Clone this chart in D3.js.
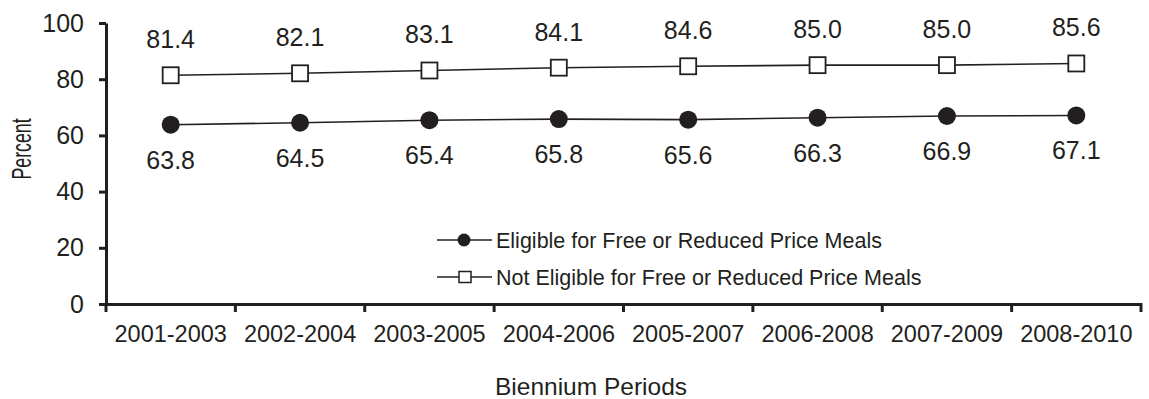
<!DOCTYPE html>
<html>
<head>
<meta charset="utf-8">
<script src="https://cdn.jsdelivr.net/npm/d3@7"></script>
<style>
  html, body { margin: 0; padding: 0; background: #fff; }
  svg { display: block; font-family: "Liberation Sans", Arial, sans-serif; }
</style>
</head>
<body>
<svg id="chart" width="1149" height="399"></svg>
<script>
const categories = ["2001-2003", "2002-2004", "2003-2005", "2004-2006", "2005-2007", "2006-2008", "2007-2009", "2008-2010"];
const eligible = [63.8, 64.5, 65.4, 65.8, 65.6, 66.3, 66.9, 67.1];
const notEligible = [81.4, 82.1, 83.1, 84.1, 84.6, 85.0, 85.0, 85.6];
const yTicks = [0, 20, 40, 60, 80, 100];
const seriesNames = ["Eligible for Free or Reduced Price Meals", "Not Eligible for Free or Reduced Price Meals"];
const xTitle = "Biennium Periods";
const yTitle = "Percent";

const ink = "#231f20";
const svg = d3.select("#chart");

const x = d3.scaleBand().domain(categories).range([106, 1141]);
const y = d3.scaleLinear().domain([0, 100]).range([304, 23]);
const cx = d => x(d) + x.bandwidth() / 2;

// Y axis
const yAxis = svg.append("g").attr("transform", "translate(106,0)")
  .call(d3.axisLeft(y).tickValues(yTicks).tickSize(7).tickSizeOuter(0).tickPadding(15));
yAxis.select(".domain").attr("stroke", ink).attr("stroke-width", 3);
yAxis.selectAll(".tick line").attr("stroke", ink).attr("stroke-width", 3);
yAxis.selectAll(".tick text").attr("fill", ink).style("font-size", "25px")
  .style("font-family", "'Liberation Sans', Arial, sans-serif");

// X axis
const xAxis = svg.append("g").attr("transform", "translate(0,304)")
  .call(d3.axisBottom(x).tickSize(0).tickSizeOuter(0).tickPadding(21));
xAxis.select(".domain").attr("stroke", ink).attr("stroke-width", 3);
xAxis.selectAll(".tick text").attr("fill", ink).style("font-size", "23.5px")
  .style("font-family", "'Liberation Sans', Arial, sans-serif");
// category boundary ticks
const bounds = categories.map(c => x(c)).concat([x.range()[1]]);
svg.append("g").selectAll("line").data(bounds).join("line")
  .attr("x1", d => d).attr("x2", d => d)
  .attr("y1", 303).attr("y2", 312)
  .attr("stroke", ink).attr("stroke-width", 3);

// Lines
const line = d3.line().x((d, i) => cx(categories[i])).y(d => y(d));
svg.append("path").datum(eligible).attr("d", line)
  .attr("fill", "none").attr("stroke", ink).attr("stroke-width", 1.6);
svg.append("path").datum(notEligible).attr("d", line)
  .attr("fill", "none").attr("stroke", ink).attr("stroke-width", 1.6);

// Markers
svg.append("g").selectAll("circle").data(eligible).join("circle")
  .attr("cx", (d, i) => cx(categories[i])).attr("cy", d => y(d))
  .attr("r", 9).attr("fill", ink);
const sq = 16;
svg.append("g").selectAll("rect").data(notEligible).join("rect")
  .attr("x", (d, i) => cx(categories[i]) - sq / 2).attr("y", d => y(d) - sq / 2)
  .attr("width", sq).attr("height", sq)
  .attr("fill", "#fff").attr("stroke", ink).attr("stroke-width", 1.8);

// Data labels
svg.append("g").selectAll("text").data(notEligible).join("text")
  .attr("x", (d, i) => cx(categories[i])).attr("y", d => y(d) - 27)
  .attr("text-anchor", "middle").attr("fill", ink).style("font-size", "25px")
  .text(d => d.toFixed(1));
svg.append("g").selectAll("text").data(eligible).join("text")
  .attr("x", (d, i) => cx(categories[i])).attr("y", d => y(d) + 44)
  .attr("text-anchor", "middle").attr("fill", ink).style("font-size", "25px")
  .text(d => d.toFixed(1));

// Legend
const leg = svg.append("g");
const rows = [{ y: 240, name: seriesNames[0], type: "circle" }, { y: 277, name: seriesNames[1], type: "square" }];
rows.forEach(r => {
  leg.append("line").attr("x1", 437).attr("x2", 492).attr("y1", r.y).attr("y2", r.y)
    .attr("stroke", ink).attr("stroke-width", 1.6);
  if (r.type === "circle") {
    leg.append("circle").attr("cx", 464).attr("cy", r.y).attr("r", 6.5).attr("fill", ink);
  } else {
    leg.append("rect").attr("x", 459).attr("y", r.y - 5.5).attr("width", 12).attr("height", 11)
      .attr("fill", "#fff").attr("stroke", ink).attr("stroke-width", 1.5);
  }
  leg.append("text").attr("x", 496).attr("y", r.y + 7.5).attr("fill", ink)
    .style("font-size", "21.5px").text(r.name);
});

// Axis titles
svg.append("text").attr("x", 591).attr("y", 395).attr("text-anchor", "middle")
  .attr("fill", ink).style("font-size", "24.5px").text(xTitle);
svg.append("text").attr("transform", "translate(31,149) rotate(-90) scale(0.74,1.15)")
  .attr("text-anchor", "middle").attr("fill", ink).style("font-size", "24px").text(yTitle);
</script>
</body>
</html>
